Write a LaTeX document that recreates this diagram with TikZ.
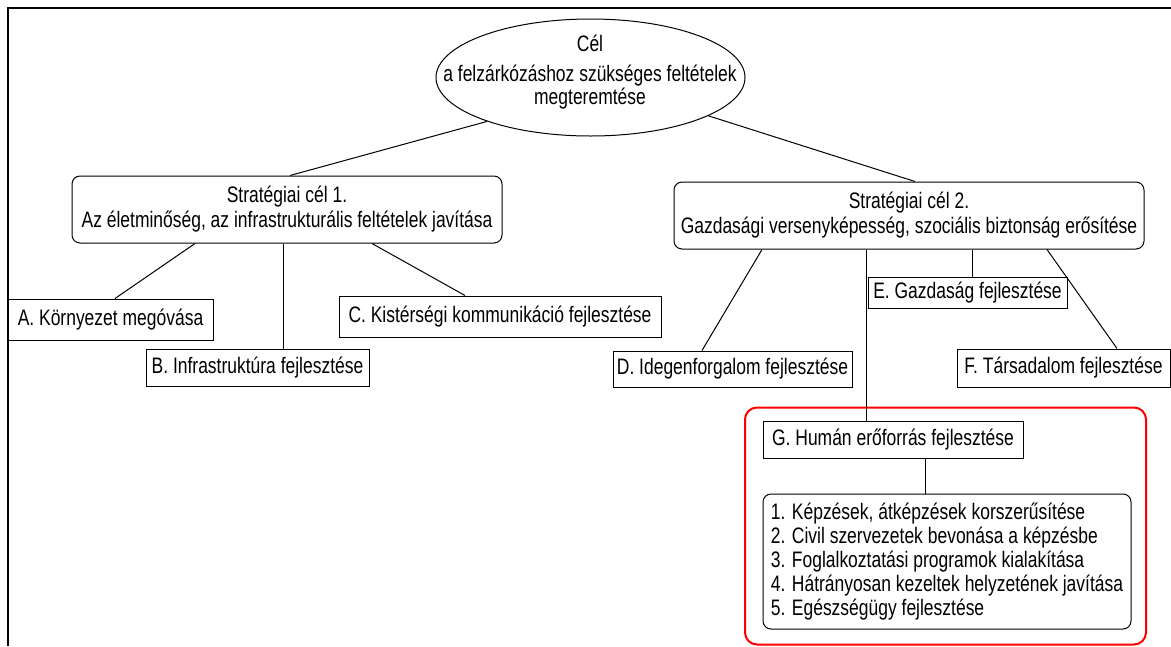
\documentclass[tikz,border=0pt]{standalone}
\usepackage{fontspec}
\setmainfont[FakeStretch=0.78]{Liberation Sans}
\usetikzlibrary{shapes.geometric}
\begin{document}
\begin{tikzpicture}[x=1pt,y=-1pt,
  every node/.style={font=\fontsize{22.4}{25}\selectfont},
  sqbox/.style={draw, line width=1pt, inner sep=0pt, align=center},
  rbox/.style={draw, line width=1pt, inner sep=0pt, rounded corners=8pt, align=center},
  conn/.style={line width=1pt},
  frameline/.style={line width=1.6pt}]
\useasboundingbox (0,0) rectangle (1171,646);
% frame
\coordinate (fTL) at (8,8);
\coordinate (fTR) at (1171,8);
\coordinate (fBL) at (8,646);
\draw[frameline] (fTR) -- (fTL) -- (fBL);
% goal ellipse
\node[draw, line width=1pt, ellipse, minimum width=309pt, minimum height=117pt, inner sep=0pt] (E) at (590.5,77.5) {};
\node[align=center, inner sep=0pt] (Et) at (590,72) {Cél\\[5pt]a felzárkózáshoz szükséges feltételek\\[-2pt]megteremtése};
% strategic goals
\node[rbox, minimum width=430pt, minimum height=67pt] (S1) at (287,209.5) {Stratégiai cél 1.\\Az életminőség, az infrastrukturális feltételek javítása};
\node[rbox, minimum width=470pt, minimum height=67pt] (S2) at (909,215.5) {Stratégiai cél 2.\\Gazdasági versenyképesség, szociális biztonság erősítése};
% sub boxes
\node[sqbox, minimum width=205pt, minimum height=41pt] (A) at (110.5,319.5) {A. Környezet megóvása};
\node[sqbox, minimum width=223pt, minimum height=37pt] (B) at (257.5,367.5) {B. Infrastruktúra fejlesztése};
\node[sqbox, minimum width=322pt, minimum height=41pt] (C) at (500,316.5) {C. Kistérségi kommunikáció fejlesztése};
\node[sqbox, minimum width=239pt, minimum height=36pt] (D) at (732.5,369) {D. Idegenforgalom fejlesztése};
\node[sqbox, minimum width=199pt, minimum height=31pt] (Ebox) at (967.5,292.5) {E. Gazdaság fejlesztése};
\node[sqbox, minimum width=213pt, minimum height=38pt] (F) at (1063.5,368) {F. Társadalom fejlesztése};
% red group
\node[draw=red, line width=2pt, rounded corners=12pt, minimum width=401pt, minimum height=237pt, inner sep=0pt] (R) at (945.5,526) {};
\node[sqbox, minimum width=260pt, minimum height=37pt] (G) at (893,439.5) {G. Humán erőforrás fejlesztése};
\node[rbox, minimum width=368pt, minimum height=135pt, align=left, font=\fontsize{22.4}{24}\selectfont] (L) at (947,561.5) {1. Képzések, átképzések korszerűsítése\\2. Civil szervezetek bevonása a képzésbe\\3. Foglalkoztatási programok kialakítása\\4. Hátrányosan kezeltek helyzetének javítása\\5. Egészségügy fejlesztése};
% connectors
\draw[conn] (E.203.4) -- ([xshift=3pt]S1.north);
\draw[conn] (E.342.6) -- ([xshift=6pt]S2.north);
\draw[conn] ([xshift=-92pt]S1.south) -- ([xshift=4.5pt]A.north);
\draw[conn] ([xshift=-4pt]S1.south) -- ([xshift=-4pt]S1.south |- B.north);
\draw[conn] ([xshift=85pt]S1.south) -- ([xshift=-35pt]C.north);
\draw[conn] ([xshift=-147pt]S2.south) -- ([xshift=-30.5pt]D.north);
\draw[conn] ([xshift=63pt]S2.south) -- ([xshift=63pt]S2.south |- Ebox.north);
\draw[conn] ([xshift=138pt]S2.south) -- ([xshift=53.5pt]F.north);
\draw[conn] ([xshift=-43pt]S2.south) -- ([xshift=-43pt]S2.south |- G.north);
\draw[conn] ([xshift=32pt]G.south) -- ([xshift=32pt]G.south |- L.north);
\end{tikzpicture}
\end{document}
